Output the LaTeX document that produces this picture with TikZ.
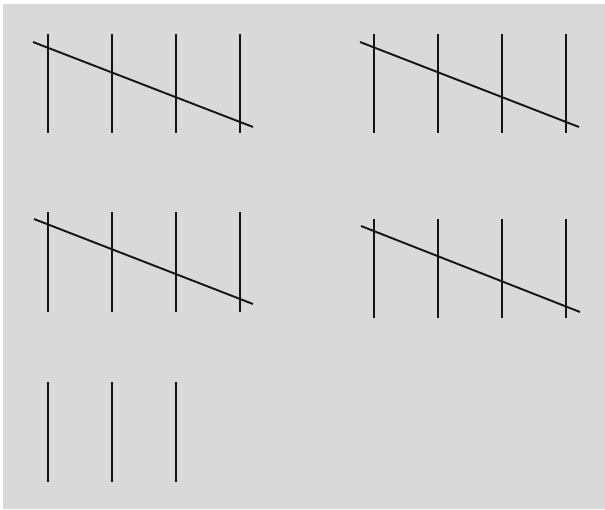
\documentclass[tikz,border=0pt]{standalone}
\definecolor{bggray}{HTML}{D9D9D9}
\definecolor{ink}{HTML}{141414}
\begin{document}
\begin{tikzpicture}[x=1pt,y=-1pt,
  tally/.style={draw=ink,line width=1.9pt},
  slash/.style={draw=ink,line width=1.9pt}]
\useasboundingbox (0,0) rectangle (605,509);
\fill[white] (0,0) rectangle (605,509);
\fill[bggray] (3,4) rectangle (605,509);
% group 1
\foreach \x in {48,112,176,240} \draw[tally] (\x,34) -- (\x,133);
\draw[slash] (33,42) -- (253,127);
% group 2
\foreach \x in {374,438,502,566} \draw[tally] (\x,34) -- (\x,133);
\draw[slash] (360,42) -- (579,127);
% group 3
\foreach \x in {48,112,176,240} \draw[tally] (\x,212) -- (\x,312);
\draw[slash] (34,219) -- (253,304);
% group 4
\foreach \x in {374,438,502,566} \draw[tally] (\x,219) -- (\x,318);
\draw[slash] (361,226) -- (580,312);
% group 5
\foreach \x in {48,112,176} \draw[tally] (\x,382) -- (\x,482);
\end{tikzpicture}
\end{document}
